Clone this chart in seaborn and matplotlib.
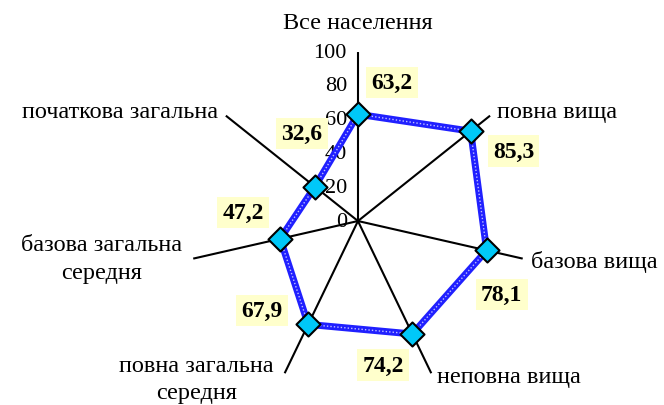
import numpy as np
import pandas as pd
import seaborn as sns
import matplotlib.pyplot as plt

# data (clockwise from top)
categories = ['Все населення', 'повна вища', 'базова вища', 'неповна вища',
              'повна загальна\nсередня', 'базова загальна\nсередня', 'початкова загальна']
values = [63.2, 85.3, 78.1, 74.2, 67.9, 47.2, 32.6]
value_labels = ['63,2', '85,3', '78,1', '74,2', '67,9', '47,2', '32,6']
radial_ticks = [0, 20, 40, 60, 80, 100]

sns.set_style('white')
plt.rcParams['font.family'] = ['Liberation Serif', 'DejaVu Serif']
plt.rcParams['text.color'] = 'black'

n = len(categories)
theta = np.arange(n) * 2 * np.pi / n
df = pd.DataFrame({'theta': np.append(theta, 2 * np.pi), 'value': values + values[:1]})

fig = plt.figure(figsize=(6.64, 4.06), dpi=100)
ax = fig.add_axes([0.2846, 0.0369, 0.509, 0.8325], projection='polar')
ax.set_theta_offset(np.pi / 2)
ax.set_theta_direction(-1)
ax.set_ylim(0, 100)
ax.grid(False)
ax.spines['polar'].set_visible(False)
ax.set_xticks([])
ax.set_yticks([])

# spokes
for t in theta:
    ax.plot([t, t], [0, 100], color='black', lw=1.5, zorder=1)

# radial tick labels along the top spoke
for v in radial_ticks:
    ax.annotate(str(v), xy=(0, v), xytext=(-11, 0), textcoords='offset pixels',
                ha='right', va='center', fontsize=16, zorder=2)

# series line (blue textured band) and diamond markers
sns.lineplot(data=df, x='theta', y='value', sort=False, ax=ax,
             color='#2020ff', lw=5, zorder=3)
ax.plot(df['theta'], df['value'], color='#c0c0ff', lw=1, ls=(0, (1, 1.5)), zorder=4)
sns.scatterplot(x=theta, y=values, ax=ax, marker='D', s=150, color='#00c8f8',
                edgecolor='black', linewidth=1.5, zorder=5)

# value labels
val_off = [(34, 32), (43, -20), (15, -44), (-29, -31), (-46, 14), (-37, 26), (-13, 53)]
for t, v, lab, off in zip(theta, values, value_labels, val_off):
    ax.annotate(lab, xy=(t, v), xytext=off, textcoords='offset pixels',
                ha='center', va='center', fontsize=17, fontweight='bold', zorder=6,
                bbox=dict(boxstyle='square,pad=0.22', fc='#ffffcc', ec='none'))

# category labels at spoke ends
cat_off = [((0, 30), 'center'), ((7, 4), 'left'), ((8, -2), 'left'), ((6, -3), 'left'),
           ((-88, -6), 'center'), ((-92, 0), 'center'), ((-8, 4), 'right')]
for t, lab, (off, ha) in zip(theta, categories, cat_off):
    ax.annotate(lab, xy=(t, 100), xytext=off, textcoords='offset pixels',
                ha=ha, va='center', fontsize=17.5, multialignment='center',
                linespacing=1.4, annotation_clip=False)

ax.set_xlabel('')
ax.set_ylabel('')
fig.savefig('out.png', dpi=100)
